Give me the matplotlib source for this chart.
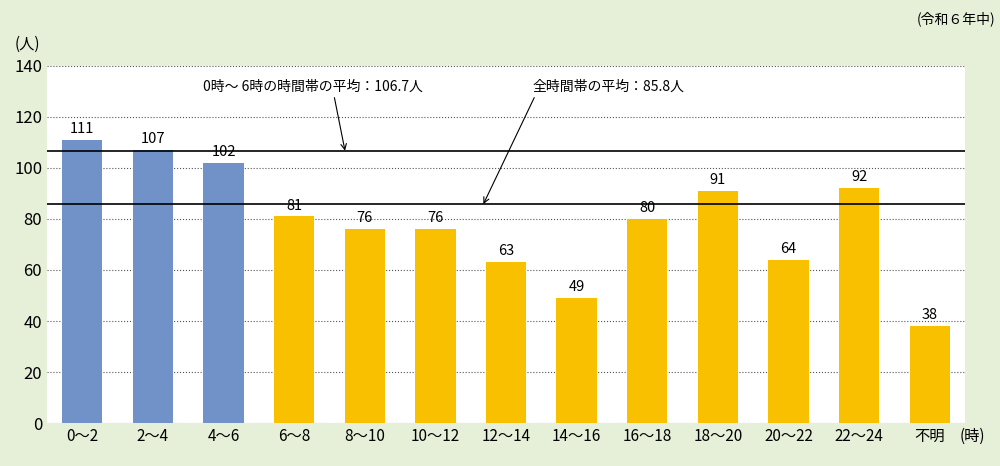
import matplotlib.pyplot as plt

plt.rcParams['font.family'] = ['Noto Sans CJK JP', 'DejaVu Sans']

categories = ['0～2', '2～4', '4～6', '6～8', '8～10', '10～12', '12～14',
              '14～16', '16～18', '18～20', '20～22', '22～24', '不明']
values = [111, 107, 102, 81, 76, 76, 63, 49, 80, 91, 64, 92, 38]
night_avg = 106.7
all_avg = 85.8

bg = '#e6f0d8'
colors = ['#7191c9'] * 3 + ['#f9c000'] * 10

fig = plt.figure(figsize=(10, 4.66), dpi=100, facecolor=bg)
ax = fig.add_axes([0.047, 0.092, 0.918, 0.767])
ax.set_facecolor('white')

x = range(len(categories))
ax.bar(x, values, width=0.57, color=colors, zorder=3)
for i, v in enumerate(values):
    ax.text(i, v + 1.5, str(v), ha='center', va='bottom', fontsize=10.5, zorder=4)

ax.axhline(night_avg, color='black', lw=1.2, zorder=5)
ax.axhline(all_avg, color='black', lw=1.2, zorder=5)

ax.text(3.27, 129, '0時～ 6時の時間帯の平均：106.7人', ha='center', va='bottom', fontsize=10)
ax.annotate('', xy=(3.72, night_avg), xytext=(3.57, 127.5),
            arrowprops=dict(arrowstyle='->', color='black', lw=0.8, shrinkA=0, shrinkB=0))
ax.text(7.45, 129, '全時間帯の平均：85.8人', ha='center', va='bottom', fontsize=10)
ax.annotate('', xy=(5.68, all_avg), xytext=(6.4, 127.5),
            arrowprops=dict(arrowstyle='->', color='black', lw=0.8, shrinkA=0, shrinkB=0))

ax.set_ylim(0, 140)
ax.set_xlim(-0.5, len(categories) - 0.5)
ax.set_yticks(range(0, 141, 20))
ax.set_xticks(list(x))
ax.set_xticklabels(categories, fontsize=11)
ax.tick_params(axis='y', labelsize=12, length=0)
ax.tick_params(axis='x', length=0)
ax.yaxis.grid(True, linestyle=':', color='#555555', lw=0.8, zorder=0)
for s in ax.spines.values():
    s.set_visible(False)

fig.text(0.015, 0.895, '(人)', fontsize=11)
fig.text(0.985, 0.055, '(時)', fontsize=11, ha='right')
fig.text(0.995, 0.975, '(令和６年中)', fontsize=10, ha='right', va='top')

fig.savefig('out.png', dpi=100, facecolor=bg)
